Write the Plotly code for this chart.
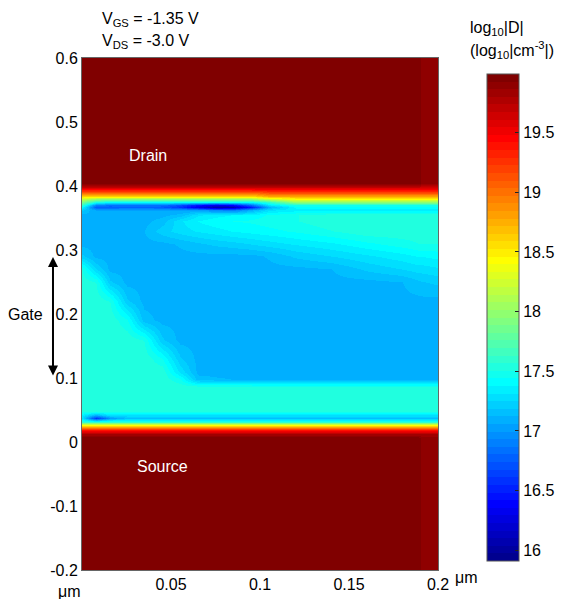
import numpy as np
import plotly.graph_objects as go

# ---------------- data ----------------
x_um = [0.0, 0.008, 0.016, 0.025, 0.035, 0.045, 0.055, 0.065, 0.075, 0.085,
        0.095, 0.105, 0.12, 0.14, 0.16, 0.18, 0.189, 0.191, 0.2]

y_um = [-0.2, 0.006, 0.012, 0.018, 0.023, 0.028, 0.032, 0.037, 0.042, 0.048,
        0.07, 0.086, 0.098, 0.11, 0.13, 0.16, 0.19, 0.22, 0.25, 0.27,
        0.29, 0.31, 0.33, 0.345, 0.355, 0.362, 0.367, 0.371, 0.375, 0.379,
        0.384, 0.39, 0.397, 0.405, 0.6]

log_doping = [
    [19.99, 19.99, 19.99, 19.99, 19.99, 19.99, 19.99, 19.99, 19.99, 19.99, 19.99, 19.99, 19.99, 19.99, 19.99, 19.99, 19.99, 19.9, 19.9],
    [19.99, 19.99, 19.99, 19.99, 19.99, 19.99, 19.99, 19.99, 19.99, 19.99, 19.99, 19.99, 19.99, 19.99, 19.99, 19.99, 19.99, 19.9, 19.9],
    [19.8, 19.8, 19.8, 19.8, 19.8, 19.8, 19.8, 19.8, 19.8, 19.8, 19.8, 19.8, 19.8, 19.8, 19.8, 19.8, 19.8, 19.8, 19.8],
    [19.4, 19.4, 19.4, 19.4, 19.4, 19.4, 19.4, 19.4, 19.4, 19.4, 19.4, 19.4, 19.4, 19.4, 19.4, 19.4, 19.4, 19.4, 19.4],
    [18.8, 18.8, 18.8, 18.8, 18.8, 18.8, 18.8, 18.8, 18.8, 18.8, 18.8, 18.8, 18.8, 18.8, 18.8, 18.8, 18.8, 18.8, 18.8],
    [18.2, 18.2, 18.2, 18.2, 18.2, 18.2, 18.2, 18.2, 18.2, 18.2, 18.2, 18.2, 18.2, 18.2, 18.2, 18.2, 18.2, 18.2, 18.2],
    [17.6, 17.6, 17.6, 17.6, 17.6, 17.6, 17.6, 17.6, 17.6, 17.6, 17.6, 17.6, 17.6, 17.6, 17.6, 17.6, 17.6, 17.6, 17.6],
    [17.3, 16.6, 17.0, 17.15, 17.15, 17.15, 17.15, 17.15, 17.15, 17.15, 17.15, 17.15, 17.15, 17.15, 17.15, 17.15, 17.15, 17.15, 17.15],
    [17.35, 17.1, 17.3, 17.3, 17.3, 17.3, 17.3, 17.3, 17.3, 17.3, 17.3, 17.3, 17.3, 17.3, 17.3, 17.3, 17.3, 17.3, 17.3],
    [17.55, 17.55, 17.55, 17.55, 17.55, 17.55, 17.55, 17.55, 17.55, 17.55, 17.55, 17.55, 17.55, 17.55, 17.55, 17.55, 17.55, 17.55, 17.55],
    [17.55, 17.55, 17.55, 17.55, 17.55, 17.55, 17.55, 17.55, 17.55, 17.55, 17.55, 17.55, 17.55, 17.55, 17.55, 17.55, 17.55, 17.55, 17.55],
    [17.55, 17.55, 17.55, 17.55, 17.55, 17.55, 17.55, 17.55, 17.55, 17.55, 17.55, 17.55, 17.55, 17.55, 17.55, 17.55, 17.55, 17.55, 17.55],
    [17.55, 17.55, 17.55, 17.55, 17.55, 17.55, 17.45, 17.15, 17.13, 17.12, 17.11, 17.1, 17.1, 17.1, 17.1, 17.1, 17.1, 17.1, 17.1],
    [17.55, 17.55, 17.55, 17.55, 17.55, 17.55, 17.3, 17.1, 17.1, 17.1, 17.1, 17.1, 17.1, 17.1, 17.1, 17.1, 17.1, 17.1, 17.1],
    [17.55, 17.55, 17.55, 17.55, 17.55, 17.45, 17.2, 17.1, 17.1, 17.1, 17.1, 17.1, 17.1, 17.1, 17.1, 17.1, 17.1, 17.1, 17.1],
    [17.55, 17.55, 17.55, 17.55, 17.5, 17.2, 17.1, 17.1, 17.1, 17.1, 17.1, 17.1, 17.1, 17.1, 17.1, 17.1, 17.1, 17.1, 17.1],
    [17.55, 17.55, 17.55, 17.45, 17.15, 17.1, 17.1, 17.1, 17.1, 17.1, 17.1, 17.1, 17.1, 17.1, 17.1, 17.1, 17.1, 17.1, 17.1],
    [17.55, 17.55, 17.5, 17.2, 17.1, 17.1, 17.1, 17.1, 17.1, 17.1, 17.1, 17.1, 17.1, 17.1, 17.1, 17.1, 17.1, 17.1, 17.1],
    [17.55, 17.5, 17.2, 17.1, 17.1, 17.1, 17.1, 17.1, 17.1, 17.1, 17.1, 17.1, 17.1, 17.1, 17.1, 17.12, 17.17, 17.18, 17.2],
    [17.5, 17.25, 17.1, 17.1, 17.1, 17.1, 17.1, 17.1, 17.1, 17.1, 17.1, 17.1, 17.1, 17.12, 17.2, 17.25, 17.28, 17.28, 17.3],
    [17.2, 17.1, 17.1, 17.1, 17.1, 17.1, 17.1, 17.1, 17.1, 17.1, 17.1, 17.13, 17.2, 17.25, 17.3, 17.35, 17.38, 17.38, 17.4],
    [17.1, 17.1, 17.1, 17.1, 17.1, 17.1, 17.13, 17.17, 17.2, 17.22, 17.25, 17.28, 17.32, 17.36, 17.42, 17.47, 17.5, 17.5, 17.5],
    [17.1, 17.1, 17.1, 17.1, 17.12, 17.22, 17.28, 17.32, 17.35, 17.38, 17.4, 17.42, 17.45, 17.5, 17.55, 17.55, 17.55, 17.55, 17.55],
    [17.1, 17.1, 17.1, 17.1, 17.1, 17.15, 17.3, 17.38, 17.42, 17.44, 17.45, 17.47, 17.5, 17.55, 17.55, 17.55, 17.55, 17.55, 17.55],
    [17.1, 17.1, 17.1, 17.1, 17.1, 17.1, 17.15, 17.3, 17.35, 17.38, 17.4, 17.45, 17.5, 17.55, 17.55, 17.55, 17.55, 17.55, 17.55],
    [17.2, 17.05, 17.05, 17.05, 17.05, 17.05, 17.05, 17.05, 16.95, 16.9, 17.1, 17.3, 17.35, 17.35, 17.35, 17.35, 17.35, 17.35, 17.35],
    [17.4, 16.75, 16.75, 16.8, 16.8, 16.75, 16.6, 16.3, 16.05, 16.1, 16.5, 17.1, 17.4, 17.4, 17.4, 17.4, 17.4, 17.4, 17.4],
    [17.6, 16.9, 16.85, 16.85, 16.85, 16.85, 16.7, 16.45, 16.3, 16.4, 16.8, 17.3, 17.5, 17.5, 17.5, 17.5, 17.5, 17.5, 17.5],
    [17.9, 17.5, 17.4, 17.4, 17.4, 17.4, 17.4, 17.4, 17.4, 17.4, 17.4, 17.6, 18.0, 18.0, 18.0, 18.0, 18.0, 18.0, 18.0],
    [18.2, 18.0, 18.0, 18.0, 18.0, 18.0, 18.0, 18.0, 18.0, 18.0, 18.0, 18.2, 18.4, 18.4, 18.4, 18.4, 18.4, 18.4, 18.4],
    [18.6, 18.6, 18.6, 18.6, 18.6, 18.6, 18.6, 18.6, 18.6, 18.6, 18.6, 18.8, 18.8, 18.8, 18.8, 18.8, 18.8, 18.8, 18.8],
    [19.1, 19.1, 19.1, 19.1, 19.1, 19.1, 19.1, 19.1, 19.1, 19.1, 19.1, 19.2, 19.2, 19.2, 19.2, 19.2, 19.2, 19.2, 19.2],
    [19.6, 19.6, 19.6, 19.6, 19.6, 19.6, 19.6, 19.6, 19.6, 19.6, 19.6, 19.6, 19.6, 19.6, 19.6, 19.6, 19.6, 19.6, 19.6],
    [19.99, 19.99, 19.99, 19.99, 19.99, 19.99, 19.99, 19.99, 19.99, 19.99, 19.99, 19.99, 19.99, 19.99, 19.99, 19.99, 19.99, 19.9, 19.9],
    [19.99, 19.99, 19.99, 19.99, 19.99, 19.99, 19.99, 19.99, 19.99, 19.99, 19.99, 19.99, 19.99, 19.99, 19.99, 19.99, 19.99, 19.9, 19.9],
]

z_min, z_max = 15.91, 19.99
cbar_ticks = [16, 16.5, 17, 17.5, 18, 18.5, 19, 19.5]
x_ticks = [0.05, 0.1, 0.15, 0.2]
x_ticktext = ["0.05", "0.1", "0.15", "0.2"]
y_ticks = [-0.2, -0.1, 0, 0.1, 0.2, 0.3, 0.4, 0.5, 0.6]
y_ticktext = ["-0.2", "-0.1", "0", "0.1", "0.2", "0.3", "0.4", "0.5", "0.6"]


# ---------------- MATLAB-style jet(64), discrete ----------------
def matlab_jet(m=64):
    n = int(np.ceil(m / 4))
    u = np.concatenate([np.arange(1, n + 1) / n, np.ones(n - 1), np.arange(n, 0, -1) / n])
    g = int(np.ceil(n / 2)) - (1 if m % 4 == 1 else 0) + np.arange(1, len(u) + 1)
    r = g + n
    b = g - n
    J = np.zeros((m, 3))
    for idx, val in zip(r, u):
        if 1 <= idx <= m:
            J[idx - 1, 0] = val
    for idx, val in zip(g, u):
        if 1 <= idx <= m:
            J[idx - 1, 1] = val
    for idx, val in zip(b, u):
        if 1 <= idx <= m:
            J[idx - 1, 2] = val
    return J


J = matlab_jet(64)
cs = []
for i, c in enumerate(J):
    col = "rgb(%d,%d,%d)" % tuple(int(round(v * 255)) for v in c)
    cs.append([i / 64, col])
    cs.append([(i + 1) / 64, col])

FONT = "Liberation Sans, Arial, sans-serif"
FS = 16

fig = go.Figure()
fig.add_trace(go.Heatmap(
    x=x_um, y=y_um, z=log_doping,
    zmin=z_min, zmax=z_max, colorscale=cs, zsmooth="best",
    colorbar=dict(
        x=1.1376, xanchor="left", xpad=0,
        y=0.493, yanchor="middle", len=0.951, lenmode="fraction", ypad=0,
        thickness=32, thicknessmode="pixels",
        outlinecolor="#555", outlinewidth=1,
        tickvals=cbar_ticks, ticktext=[str(t) for t in cbar_ticks],
        ticks="inside", ticklen=4, tickcolor="#222", tickwidth=1,
        tickfont=dict(family=FONT, size=FS, color="black"),
    ),
))

ann = [
    dict(text="V<sub>GS</sub> = -1.35 V", x=0.05, y=1.075, xref="paper", yref="paper",
         xanchor="left", yanchor="middle", showarrow=False,
         font=dict(family=FONT, size=FS, color="black")),
    dict(text="V<sub>DS</sub> = -3.0 V", x=0.05, y=1.032, xref="paper", yref="paper",
         xanchor="left", yanchor="middle", showarrow=False,
         font=dict(family=FONT, size=FS, color="black")),
    dict(text="log<sub>10</sub>|D|", x=1.084, y=1.058, xref="paper", yref="paper",
         xanchor="left", yanchor="middle", showarrow=False,
         font=dict(family=FONT, size=FS, color="black")),
    dict(text="(log<sub>10</sub>|cm<sup>-3</sup>|)", x=1.084, y=1.015, xref="paper", yref="paper",
         xanchor="left", yanchor="middle", showarrow=False,
         font=dict(family=FONT, size=FS, color="black")),
    dict(text="Drain", x=0.037, y=0.447, xref="x", yref="y", showarrow=False,
         xanchor="center", yanchor="middle",
         font=dict(family=FONT, size=FS, color="white")),
    dict(text="Source", x=0.045, y=-0.039, xref="x", yref="y", showarrow=False,
         xanchor="center", yanchor="middle",
         font=dict(family=FONT, size=FS, color="white")),
    dict(text="Gate", x=-0.16, y=0.2, xref="paper", yref="y", showarrow=False,
         xanchor="center", yanchor="middle",
         font=dict(family=FONT, size=FS, color="black")),
    dict(text="", x=-0.0815, y=0.104, xref="paper", yref="y",
         ax=0, ay=-120, showarrow=True, arrowhead=2, arrowside="end+start",
         arrowsize=1, arrowwidth=2, arrowcolor="black", startarrowhead=2,
         startarrowsize=1, standoff=0, startstandoff=0),
    dict(text="\u03bcm", x=-0.034, y=-0.042, xref="paper", yref="paper",
         xanchor="center", yanchor="middle", showarrow=False,
         font=dict(family=FONT, size=FS, color="black")),
    dict(text="\u03bcm", x=1.08, y=-0.015, xref="paper", yref="paper",
         xanchor="center", yanchor="middle", showarrow=False,
         font=dict(family=FONT, size=FS, color="black")),
]

fig.update_layout(
    width=565, height=599,
    margin=dict(l=82, r=127, t=58, b=29, pad=0, autoexpand=False),
    paper_bgcolor="white", plot_bgcolor="white",
    font=dict(family=FONT, size=FS, color="black"),
    annotations=ann,
    xaxis=dict(range=[0, 0.2], tickvals=x_ticks, ticktext=x_ticktext,
               showgrid=False, zeroline=False, ticks="",
               showline=True, mirror=True, linecolor="#666", linewidth=1,
               tickfont=dict(family=FONT, size=FS, color="black")),
    yaxis=dict(range=[-0.2, 0.6], tickvals=y_ticks, ticktext=y_ticktext,
               showgrid=False, zeroline=False, ticks="",
               showline=True, mirror=True, linecolor="#666", linewidth=1,
               tickfont=dict(family=FONT, size=FS, color="black")),
)

fig.write_html("out.html")
